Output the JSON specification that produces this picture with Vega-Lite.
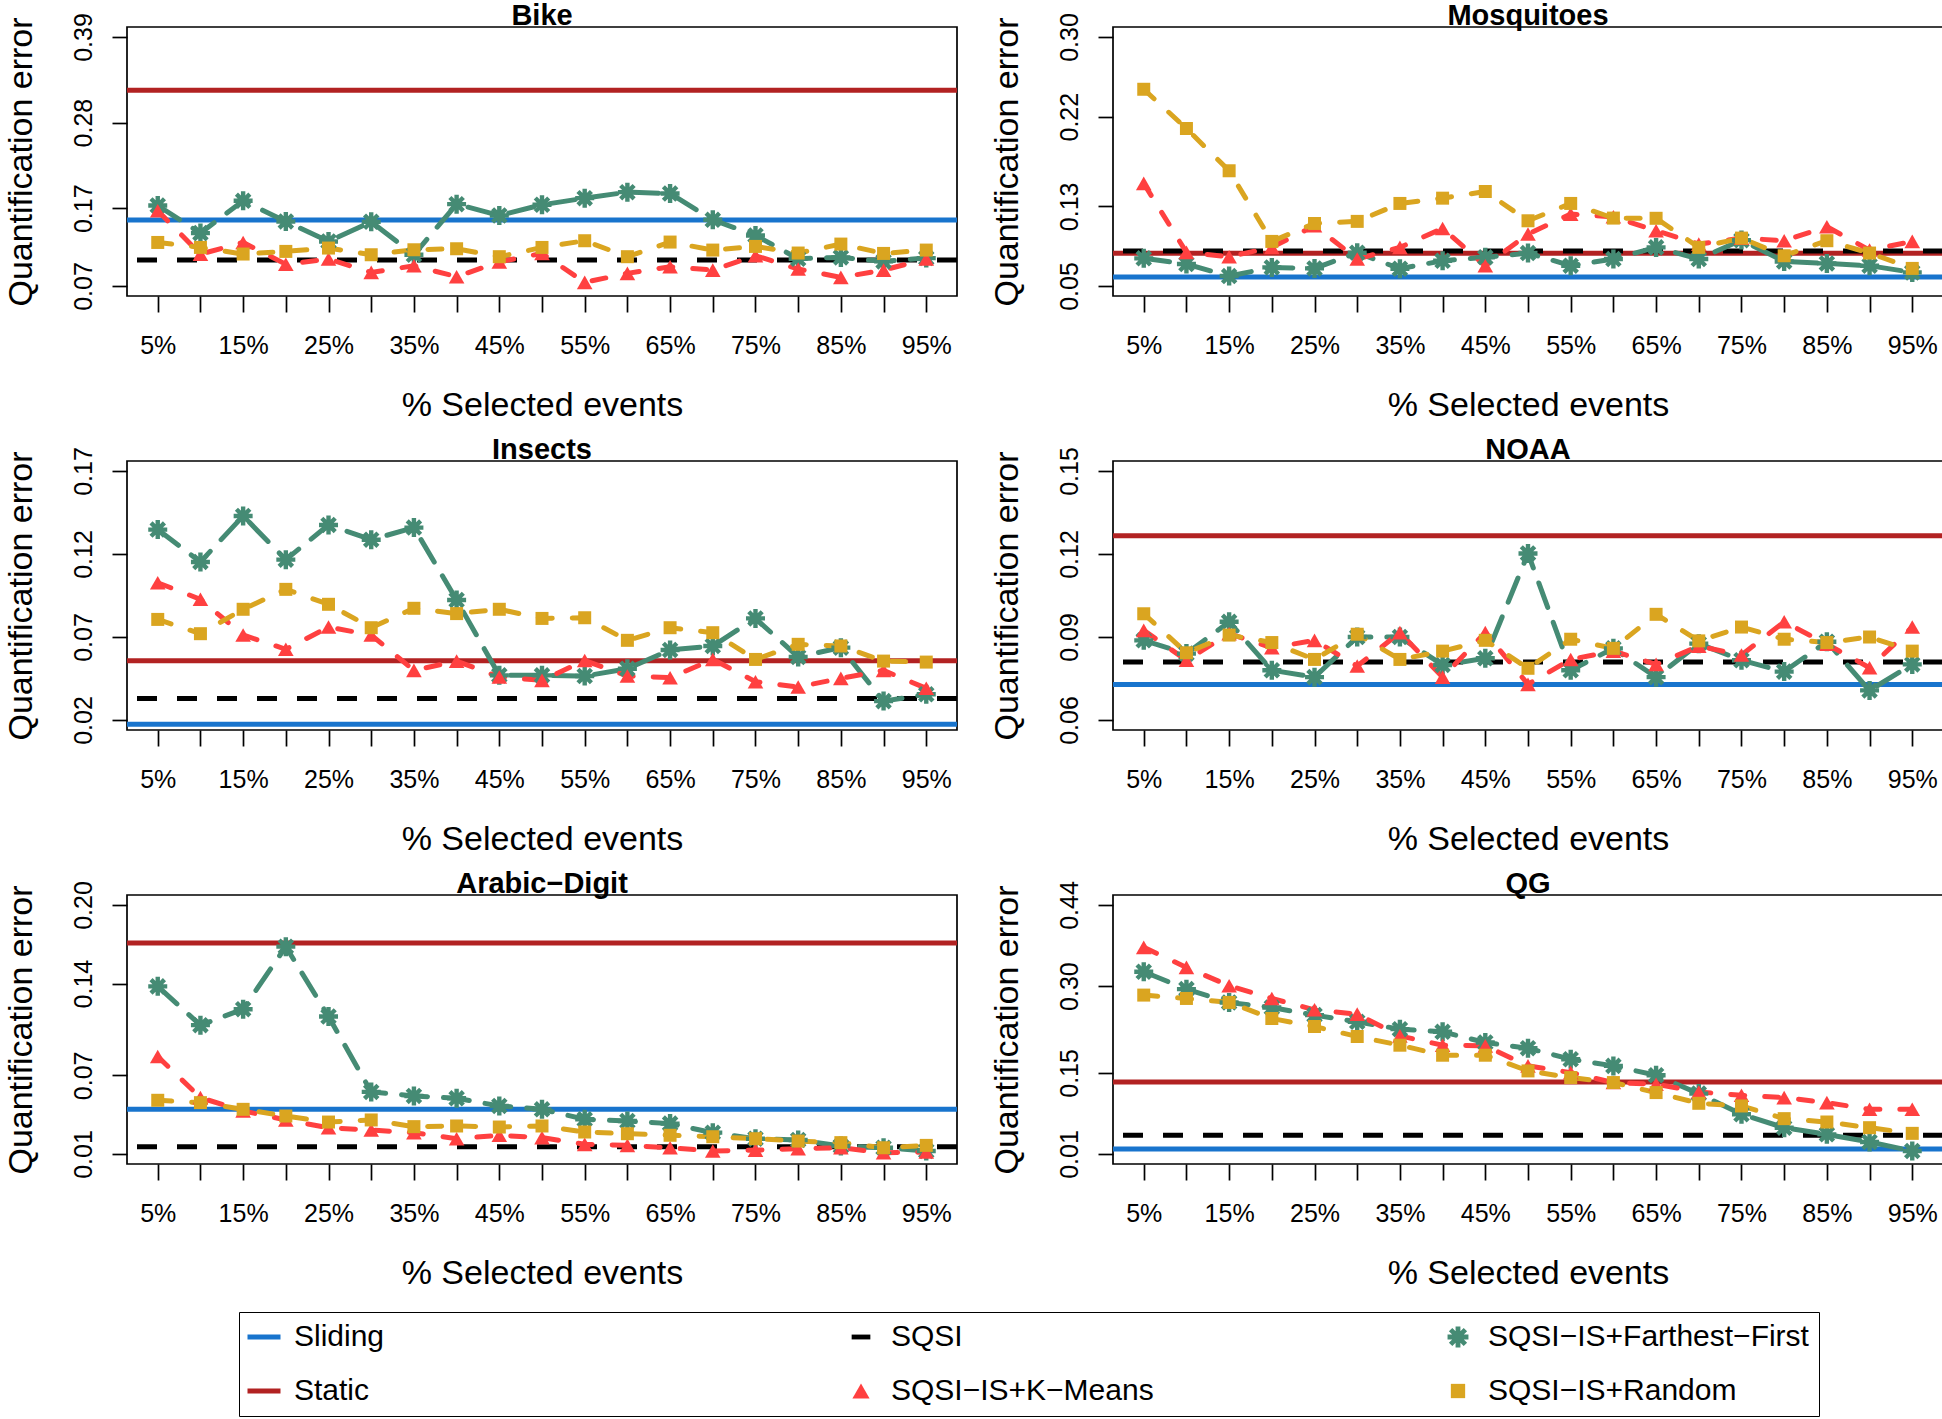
{
"$schema": "https://vega.github.io/schema/vega-lite/v6.json",
"background": "white",
"padding": {"left": 3, "top": 0, "right": 0, "bottom": 0},
"autosize": {"type": "pad"},
"datasets": {
"rows": [
{"ds":"Bike","m":"Static","v":0.3216},{"ds":"Bike","m":"Sliding","v":0.155},{"ds":"Bike","m":"SQSI","v":0.1034},
{"ds":"Mosquitoes","m":"Static","v":0.083},{"ds":"Mosquitoes","m":"Sliding","v":0.059},{"ds":"Mosquitoes","m":"SQSI","v":0.0852},
{"ds":"Insects","m":"Static","v":0.0557},{"ds":"Insects","m":"Sliding","v":0.0174},{"ds":"Insects","m":"SQSI","v":0.033},
{"ds":"NOAA","m":"Static","v":0.1266},{"ds":"NOAA","m":"Sliding","v":0.0728},{"ds":"NOAA","m":"SQSI","v":0.081},
{"ds":"Arabic−Digit","m":"Static","v":0.171},{"ds":"Arabic−Digit","m":"Sliding","v":0.0441},{"ds":"Arabic−Digit","m":"SQSI","v":0.0156},
{"ds":"QG","m":"Static","v":0.1345},{"ds":"QG","m":"Sliding","v":0.0187},{"ds":"QG","m":"SQSI","v":0.0423},
{"ds":"Bike","m":"SQSI−IS+Farthest−First","p":5,"v":0.1735},{"ds":"Bike","m":"SQSI−IS+Farthest−First","p":10,"v":0.138},{"ds":"Bike","m":"SQSI−IS+Farthest−First","p":15,"v":0.1795},{"ds":"Bike","m":"SQSI−IS+Farthest−First","p":20,"v":0.153},{"ds":"Bike","m":"SQSI−IS+Farthest−First","p":25,"v":0.1273},{"ds":"Bike","m":"SQSI−IS+Farthest−First","p":30,"v":0.1526},{"ds":"Bike","m":"SQSI−IS+Farthest−First","p":35,"v":0.1102},{"ds":"Bike","m":"SQSI−IS+Farthest−First","p":40,"v":0.1752},{"ds":"Bike","m":"SQSI−IS+Farthest−First","p":45,"v":0.1607},{"ds":"Bike","m":"SQSI−IS+Farthest−First","p":50,"v":0.1744},{"ds":"Bike","m":"SQSI−IS+Farthest−First","p":55,"v":0.1829},{"ds":"Bike","m":"SQSI−IS+Farthest−First","p":60,"v":0.1906},{"ds":"Bike","m":"SQSI−IS+Farthest−First","p":65,"v":0.1889},{"ds":"Bike","m":"SQSI−IS+Farthest−First","p":70,"v":0.1551},{"ds":"Bike","m":"SQSI−IS+Farthest−First","p":75,"v":0.135},{"ds":"Bike","m":"SQSI−IS+Farthest−First","p":80,"v":0.1051},{"ds":"Bike","m":"SQSI−IS+Farthest−First","p":85,"v":0.1068},{"ds":"Bike","m":"SQSI−IS+Farthest−First","p":90,"v":0.1017},{"ds":"Bike","m":"SQSI−IS+Farthest−First","p":95,"v":0.1059},
{"ds":"Bike","m":"SQSI−IS+K−Means","p":5,"v":0.1667},{"ds":"Bike","m":"SQSI−IS+K−Means","p":10,"v":0.111},{"ds":"Bike","m":"SQSI−IS+K−Means","p":15,"v":0.126},{"ds":"Bike","m":"SQSI−IS+K−Means","p":20,"v":0.098},{"ds":"Bike","m":"SQSI−IS+K−Means","p":25,"v":0.1047},{"ds":"Bike","m":"SQSI−IS+K−Means","p":30,"v":0.0875},{"ds":"Bike","m":"SQSI−IS+K−Means","p":35,"v":0.096},{"ds":"Bike","m":"SQSI−IS+K−Means","p":40,"v":0.082},{"ds":"Bike","m":"SQSI−IS+K−Means","p":45,"v":0.101},{"ds":"Bike","m":"SQSI−IS+K−Means","p":50,"v":0.112},{"ds":"Bike","m":"SQSI−IS+K−Means","p":55,"v":0.0747},{"ds":"Bike","m":"SQSI−IS+K−Means","p":60,"v":0.0863},{"ds":"Bike","m":"SQSI−IS+K−Means","p":65,"v":0.0948},{"ds":"Bike","m":"SQSI−IS+K−Means","p":70,"v":0.0905},{"ds":"Bike","m":"SQSI−IS+K−Means","p":75,"v":0.109},{"ds":"Bike","m":"SQSI−IS+K−Means","p":80,"v":0.0918},{"ds":"Bike","m":"SQSI−IS+K−Means","p":85,"v":0.0811},{"ds":"Bike","m":"SQSI−IS+K−Means","p":90,"v":0.0905},{"ds":"Bike","m":"SQSI−IS+K−Means","p":95,"v":0.1047},
{"ds":"Bike","m":"SQSI−IS+Random","p":5,"v":0.126},{"ds":"Bike","m":"SQSI−IS+Random","p":10,"v":0.1196},{"ds":"Bike","m":"SQSI−IS+Random","p":15,"v":0.1111},{"ds":"Bike","m":"SQSI−IS+Random","p":20,"v":0.1145},{"ds":"Bike","m":"SQSI−IS+Random","p":25,"v":0.1188},{"ds":"Bike","m":"SQSI−IS+Random","p":30,"v":0.1102},{"ds":"Bike","m":"SQSI−IS+Random","p":35,"v":0.1166},{"ds":"Bike","m":"SQSI−IS+Random","p":40,"v":0.1179},{"ds":"Bike","m":"SQSI−IS+Random","p":45,"v":0.1077},{"ds":"Bike","m":"SQSI−IS+Random","p":50,"v":0.1196},{"ds":"Bike","m":"SQSI−IS+Random","p":55,"v":0.1282},{"ds":"Bike","m":"SQSI−IS+Random","p":60,"v":0.1077},{"ds":"Bike","m":"SQSI−IS+Random","p":65,"v":0.1265},{"ds":"Bike","m":"SQSI−IS+Random","p":70,"v":0.1162},{"ds":"Bike","m":"SQSI−IS+Random","p":75,"v":0.1209},{"ds":"Bike","m":"SQSI−IS+Random","p":80,"v":0.1124},{"ds":"Bike","m":"SQSI−IS+Random","p":85,"v":0.1239},{"ds":"Bike","m":"SQSI−IS+Random","p":90,"v":0.1119},{"ds":"Bike","m":"SQSI−IS+Random","p":95,"v":0.1162},
{"ds":"Mosquitoes","m":"SQSI−IS+Farthest−First","p":5,"v":0.0778},{"ds":"Mosquitoes","m":"SQSI−IS+Farthest−First","p":10,"v":0.0721},{"ds":"Mosquitoes","m":"SQSI−IS+Farthest−First","p":15,"v":0.060},{"ds":"Mosquitoes","m":"SQSI−IS+Farthest−First","p":20,"v":0.0687},{"ds":"Mosquitoes","m":"SQSI−IS+Farthest−First","p":25,"v":0.0677},{"ds":"Mosquitoes","m":"SQSI−IS+Farthest−First","p":30,"v":0.0834},{"ds":"Mosquitoes","m":"SQSI−IS+Farthest−First","p":35,"v":0.0674},{"ds":"Mosquitoes","m":"SQSI−IS+Farthest−First","p":40,"v":0.0754},{"ds":"Mosquitoes","m":"SQSI−IS+Farthest−First","p":45,"v":0.0788},{"ds":"Mosquitoes","m":"SQSI−IS+Farthest−First","p":50,"v":0.0831},{"ds":"Mosquitoes","m":"SQSI−IS+Farthest−First","p":55,"v":0.0704},{"ds":"Mosquitoes","m":"SQSI−IS+Farthest−First","p":60,"v":0.0771},{"ds":"Mosquitoes","m":"SQSI−IS+Farthest−First","p":65,"v":0.0888},{"ds":"Mosquitoes","m":"SQSI−IS+Farthest−First","p":70,"v":0.0771},{"ds":"Mosquitoes","m":"SQSI−IS+Farthest−First","p":75,"v":0.0961},{"ds":"Mosquitoes","m":"SQSI−IS+Farthest−First","p":80,"v":0.0747},{"ds":"Mosquitoes","m":"SQSI−IS+Farthest−First","p":85,"v":0.0727},{"ds":"Mosquitoes","m":"SQSI−IS+Farthest−First","p":90,"v":0.0704},{"ds":"Mosquitoes","m":"SQSI−IS+Farthest−First","p":95,"v":0.0637},
{"ds":"Mosquitoes","m":"SQSI−IS+K−Means","p":5,"v":0.153},{"ds":"Mosquitoes","m":"SQSI−IS+K−Means","p":10,"v":0.0838},{"ds":"Mosquitoes","m":"SQSI−IS+K−Means","p":15,"v":0.0794},{"ds":"Mosquitoes","m":"SQSI−IS+K−Means","p":20,"v":0.0888},{"ds":"Mosquitoes","m":"SQSI−IS+K−Means","p":25,"v":0.1105},{"ds":"Mosquitoes","m":"SQSI−IS+K−Means","p":30,"v":0.0771},{"ds":"Mosquitoes","m":"SQSI−IS+K−Means","p":35,"v":0.0888},{"ds":"Mosquitoes","m":"SQSI−IS+K−Means","p":40,"v":0.1078},{"ds":"Mosquitoes","m":"SQSI−IS+K−Means","p":45,"v":0.0704},{"ds":"Mosquitoes","m":"SQSI−IS+K−Means","p":50,"v":0.1022},{"ds":"Mosquitoes","m":"SQSI−IS+K−Means","p":55,"v":0.1222},{"ds":"Mosquitoes","m":"SQSI−IS+K−Means","p":60,"v":0.1195},{"ds":"Mosquitoes","m":"SQSI−IS+K−Means","p":65,"v":0.1055},{"ds":"Mosquitoes","m":"SQSI−IS+K−Means","p":70,"v":0.0921},{"ds":"Mosquitoes","m":"SQSI−IS+K−Means","p":75,"v":0.0981},{"ds":"Mosquitoes","m":"SQSI−IS+K−Means","p":80,"v":0.0955},{"ds":"Mosquitoes","m":"SQSI−IS+K−Means","p":85,"v":0.1095},{"ds":"Mosquitoes","m":"SQSI−IS+K−Means","p":90,"v":0.0861},{"ds":"Mosquitoes","m":"SQSI−IS+K−Means","p":95,"v":0.0948},
{"ds":"Mosquitoes","m":"SQSI−IS+Random","p":5,"v":0.2475},{"ds":"Mosquitoes","m":"SQSI−IS+Random","p":10,"v":0.2081},{"ds":"Mosquitoes","m":"SQSI−IS+Random","p":15,"v":0.1657},{"ds":"Mosquitoes","m":"SQSI−IS+Random","p":20,"v":0.0948},{"ds":"Mosquitoes","m":"SQSI−IS+Random","p":25,"v":0.1128},{"ds":"Mosquitoes","m":"SQSI−IS+Random","p":30,"v":0.1149},{"ds":"Mosquitoes","m":"SQSI−IS+Random","p":35,"v":0.1329},{"ds":"Mosquitoes","m":"SQSI−IS+Random","p":40,"v":0.1382},{"ds":"Mosquitoes","m":"SQSI−IS+Random","p":45,"v":0.1449},{"ds":"Mosquitoes","m":"SQSI−IS+Random","p":50,"v":0.1155},{"ds":"Mosquitoes","m":"SQSI−IS+Random","p":55,"v":0.1329},{"ds":"Mosquitoes","m":"SQSI−IS+Random","p":60,"v":0.1182},{"ds":"Mosquitoes","m":"SQSI−IS+Random","p":65,"v":0.118},{"ds":"Mosquitoes","m":"SQSI−IS+Random","p":70,"v":0.0888},{"ds":"Mosquitoes","m":"SQSI−IS+Random","p":75,"v":0.0981},{"ds":"Mosquitoes","m":"SQSI−IS+Random","p":80,"v":0.0804},{"ds":"Mosquitoes","m":"SQSI−IS+Random","p":85,"v":0.0955},{"ds":"Mosquitoes","m":"SQSI−IS+Random","p":90,"v":0.0831},{"ds":"Mosquitoes","m":"SQSI−IS+Random","p":95,"v":0.0677},
{"ds":"Insects","m":"SQSI−IS+Farthest−First","p":5,"v":0.1347},{"ds":"Insects","m":"SQSI−IS+Farthest−First","p":10,"v":0.1152},{"ds":"Insects","m":"SQSI−IS+Farthest−First","p":15,"v":0.1429},{"ds":"Insects","m":"SQSI−IS+Farthest−First","p":20,"v":0.1166},{"ds":"Insects","m":"SQSI−IS+Farthest−First","p":25,"v":0.1375},{"ds":"Insects","m":"SQSI−IS+Farthest−First","p":30,"v":0.1286},{"ds":"Insects","m":"SQSI−IS+Farthest−First","p":35,"v":0.1359},{"ds":"Insects","m":"SQSI−IS+Farthest−First","p":40,"v":0.0923},{"ds":"Insects","m":"SQSI−IS+Farthest−First","p":45,"v":0.0469},{"ds":"Insects","m":"SQSI−IS+Farthest−First","p":50,"v":0.0469},{"ds":"Insects","m":"SQSI−IS+Farthest−First","p":55,"v":0.0465},{"ds":"Insects","m":"SQSI−IS+Farthest−First","p":60,"v":0.0509},{"ds":"Insects","m":"SQSI−IS+Farthest−First","p":65,"v":0.0622},{"ds":"Insects","m":"SQSI−IS+Farthest−First","p":70,"v":0.0646},{"ds":"Insects","m":"SQSI−IS+Farthest−First","p":75,"v":0.0812},{"ds":"Insects","m":"SQSI−IS+Farthest−First","p":80,"v":0.058},{"ds":"Insects","m":"SQSI−IS+Farthest−First","p":85,"v":0.0636},{"ds":"Insects","m":"SQSI−IS+Farthest−First","p":90,"v":0.0314},{"ds":"Insects","m":"SQSI−IS+Farthest−First","p":95,"v":0.0355},
{"ds":"Insects","m":"SQSI−IS+K−Means","p":5,"v":0.1027},{"ds":"Insects","m":"SQSI−IS+K−Means","p":10,"v":0.0927},{"ds":"Insects","m":"SQSI−IS+K−Means","p":15,"v":0.0712},{"ds":"Insects","m":"SQSI−IS+K−Means","p":20,"v":0.0626},{"ds":"Insects","m":"SQSI−IS+K−Means","p":25,"v":0.076},{"ds":"Insects","m":"SQSI−IS+K−Means","p":30,"v":0.0712},{"ds":"Insects","m":"SQSI−IS+K−Means","p":35,"v":0.0499},{"ds":"Insects","m":"SQSI−IS+K−Means","p":40,"v":0.0555},{"ds":"Insects","m":"SQSI−IS+K−Means","p":45,"v":0.0459},{"ds":"Insects","m":"SQSI−IS+K−Means","p":50,"v":0.0439},{"ds":"Insects","m":"SQSI−IS+K−Means","p":55,"v":0.0559},{"ds":"Insects","m":"SQSI−IS+K−Means","p":60,"v":0.0465},{"ds":"Insects","m":"SQSI−IS+K−Means","p":65,"v":0.0455},{"ds":"Insects","m":"SQSI−IS+K−Means","p":70,"v":0.0565},{"ds":"Insects","m":"SQSI−IS+K−Means","p":75,"v":0.0431},{"ds":"Insects","m":"SQSI−IS+K−Means","p":80,"v":0.0399},{"ds":"Insects","m":"SQSI−IS+K−Means","p":85,"v":0.0451},{"ds":"Insects","m":"SQSI−IS+K−Means","p":90,"v":0.0499},{"ds":"Insects","m":"SQSI−IS+K−Means","p":95,"v":0.0391},
{"ds":"Insects","m":"SQSI−IS+Random","p":5,"v":0.0806},{"ds":"Insects","m":"SQSI−IS+Random","p":10,"v":0.072},{"ds":"Insects","m":"SQSI−IS+Random","p":15,"v":0.0867},{"ds":"Insects","m":"SQSI−IS+Random","p":20,"v":0.0987},{"ds":"Insects","m":"SQSI−IS+Random","p":25,"v":0.0897},{"ds":"Insects","m":"SQSI−IS+Random","p":30,"v":0.0756},{"ds":"Insects","m":"SQSI−IS+Random","p":35,"v":0.0873},{"ds":"Insects","m":"SQSI−IS+Random","p":40,"v":0.0841},{"ds":"Insects","m":"SQSI−IS+Random","p":45,"v":0.0867},{"ds":"Insects","m":"SQSI−IS+Random","p":50,"v":0.0812},{"ds":"Insects","m":"SQSI−IS+Random","p":55,"v":0.0816},{"ds":"Insects","m":"SQSI−IS+Random","p":60,"v":0.068},{"ds":"Insects","m":"SQSI−IS+Random","p":65,"v":0.0756},{"ds":"Insects","m":"SQSI−IS+Random","p":70,"v":0.0726},{"ds":"Insects","m":"SQSI−IS+Random","p":75,"v":0.0565},{"ds":"Insects","m":"SQSI−IS+Random","p":80,"v":0.0656},{"ds":"Insects","m":"SQSI−IS+Random","p":85,"v":0.0646},{"ds":"Insects","m":"SQSI−IS+Random","p":90,"v":0.0555},{"ds":"Insects","m":"SQSI−IS+Random","p":95,"v":0.0549},
{"ds":"NOAA","m":"SQSI−IS+Farthest−First","p":5,"v":0.0888},{"ds":"NOAA","m":"SQSI−IS+Farthest−First","p":10,"v":0.084},{"ds":"NOAA","m":"SQSI−IS+Farthest−First","p":15,"v":0.0955},{"ds":"NOAA","m":"SQSI−IS+Farthest−First","p":20,"v":0.078},{"ds":"NOAA","m":"SQSI−IS+Farthest−First","p":25,"v":0.0755},{"ds":"NOAA","m":"SQSI−IS+Farthest−First","p":30,"v":0.090},{"ds":"NOAA","m":"SQSI−IS+Farthest−First","p":35,"v":0.090},{"ds":"NOAA","m":"SQSI−IS+Farthest−First","p":40,"v":0.0799},{"ds":"NOAA","m":"SQSI−IS+Farthest−First","p":45,"v":0.0823},{"ds":"NOAA","m":"SQSI−IS+Farthest−First","p":50,"v":0.1202},{"ds":"NOAA","m":"SQSI−IS+Farthest−First","p":55,"v":0.078},{"ds":"NOAA","m":"SQSI−IS+Farthest−First","p":60,"v":0.0859},{"ds":"NOAA","m":"SQSI−IS+Farthest−First","p":65,"v":0.0755},{"ds":"NOAA","m":"SQSI−IS+Farthest−First","p":70,"v":0.0876},{"ds":"NOAA","m":"SQSI−IS+Farthest−First","p":75,"v":0.0816},{"ds":"NOAA","m":"SQSI−IS+Farthest−First","p":80,"v":0.0775},{"ds":"NOAA","m":"SQSI−IS+Farthest−First","p":85,"v":0.0883},{"ds":"NOAA","m":"SQSI−IS+Farthest−First","p":90,"v":0.0707},{"ds":"NOAA","m":"SQSI−IS+Farthest−First","p":95,"v":0.0801},
{"ds":"NOAA","m":"SQSI−IS+K−Means","p":5,"v":0.0924},{"ds":"NOAA","m":"SQSI−IS+K−Means","p":10,"v":0.0816},{"ds":"NOAA","m":"SQSI−IS+K−Means","p":15,"v":0.0912},{"ds":"NOAA","m":"SQSI−IS+K−Means","p":20,"v":0.0861},{"ds":"NOAA","m":"SQSI−IS+K−Means","p":25,"v":0.0888},{"ds":"NOAA","m":"SQSI−IS+K−Means","p":30,"v":0.0795},{"ds":"NOAA","m":"SQSI−IS+K−Means","p":35,"v":0.0916},{"ds":"NOAA","m":"SQSI−IS+K−Means","p":40,"v":0.0755},{"ds":"NOAA","m":"SQSI−IS+K−Means","p":45,"v":0.0916},{"ds":"NOAA","m":"SQSI−IS+K−Means","p":50,"v":0.0729},{"ds":"NOAA","m":"SQSI−IS+K−Means","p":55,"v":0.0819},{"ds":"NOAA","m":"SQSI−IS+K−Means","p":60,"v":0.0849},{"ds":"NOAA","m":"SQSI−IS+K−Means","p":65,"v":0.0801},{"ds":"NOAA","m":"SQSI−IS+K−Means","p":70,"v":0.0867},{"ds":"NOAA","m":"SQSI−IS+K−Means","p":75,"v":0.0835},{"ds":"NOAA","m":"SQSI−IS+K−Means","p":80,"v":0.0955},{"ds":"NOAA","m":"SQSI−IS+K−Means","p":85,"v":0.0874},{"ds":"NOAA","m":"SQSI−IS+K−Means","p":90,"v":0.0789},{"ds":"NOAA","m":"SQSI−IS+K−Means","p":95,"v":0.0936},
{"ds":"NOAA","m":"SQSI−IS+Random","p":5,"v":0.0984},{"ds":"NOAA","m":"SQSI−IS+Random","p":10,"v":0.0843},{"ds":"NOAA","m":"SQSI−IS+Random","p":15,"v":0.0907},{"ds":"NOAA","m":"SQSI−IS+Random","p":20,"v":0.088},{"ds":"NOAA","m":"SQSI−IS+Random","p":25,"v":0.0819},{"ds":"NOAA","m":"SQSI−IS+Random","p":30,"v":0.091},{"ds":"NOAA","m":"SQSI−IS+Random","p":35,"v":0.0819},{"ds":"NOAA","m":"SQSI−IS+Random","p":40,"v":0.0849},{"ds":"NOAA","m":"SQSI−IS+Random","p":45,"v":0.0888},{"ds":"NOAA","m":"SQSI−IS+Random","p":50,"v":0.0787},{"ds":"NOAA","m":"SQSI−IS+Random","p":55,"v":0.0892},{"ds":"NOAA","m":"SQSI−IS+Random","p":60,"v":0.0859},{"ds":"NOAA","m":"SQSI−IS+Random","p":65,"v":0.0982},{"ds":"NOAA","m":"SQSI−IS+Random","p":70,"v":0.0886},{"ds":"NOAA","m":"SQSI−IS+Random","p":75,"v":0.0936},{"ds":"NOAA","m":"SQSI−IS+Random","p":80,"v":0.0892},{"ds":"NOAA","m":"SQSI−IS+Random","p":85,"v":0.088},{"ds":"NOAA","m":"SQSI−IS+Random","p":90,"v":0.090},{"ds":"NOAA","m":"SQSI−IS+Random","p":95,"v":0.0849},
{"ds":"Arabic−Digit","m":"SQSI−IS+Farthest−First","p":5,"v":0.1379},{"ds":"Arabic−Digit","m":"SQSI−IS+Farthest−First","p":10,"v":0.1083},{"ds":"Arabic−Digit","m":"SQSI−IS+Farthest−First","p":15,"v":0.1205},{"ds":"Arabic−Digit","m":"SQSI−IS+Farthest−First","p":20,"v":0.1682},{"ds":"Arabic−Digit","m":"SQSI−IS+Farthest−First","p":25,"v":0.1149},{"ds":"Arabic−Digit","m":"SQSI−IS+Farthest−First","p":30,"v":0.0574},{"ds":"Arabic−Digit","m":"SQSI−IS+Farthest−First","p":35,"v":0.0543},{"ds":"Arabic−Digit","m":"SQSI−IS+Farthest−First","p":40,"v":0.0525},{"ds":"Arabic−Digit","m":"SQSI−IS+Farthest−First","p":45,"v":0.0467},{"ds":"Arabic−Digit","m":"SQSI−IS+Farthest−First","p":50,"v":0.0441},{"ds":"Arabic−Digit","m":"SQSI−IS+Farthest−First","p":55,"v":0.0365},{"ds":"Arabic−Digit","m":"SQSI−IS+Farthest−First","p":60,"v":0.0352},{"ds":"Arabic−Digit","m":"SQSI−IS+Farthest−First","p":65,"v":0.0332},{"ds":"Arabic−Digit","m":"SQSI−IS+Farthest−First","p":70,"v":0.0263},{"ds":"Arabic−Digit","m":"SQSI−IS+Farthest−First","p":75,"v":0.0217},{"ds":"Arabic−Digit","m":"SQSI−IS+Farthest−First","p":80,"v":0.0207},{"ds":"Arabic−Digit","m":"SQSI−IS+Farthest−First","p":85,"v":0.0161},{"ds":"Arabic−Digit","m":"SQSI−IS+Farthest−First","p":90,"v":0.0148},{"ds":"Arabic−Digit","m":"SQSI−IS+Farthest−First","p":95,"v":0.0123},
{"ds":"Arabic−Digit","m":"SQSI−IS+K−Means","p":5,"v":0.0844},{"ds":"Arabic−Digit","m":"SQSI−IS+K−Means","p":10,"v":0.053},{"ds":"Arabic−Digit","m":"SQSI−IS+K−Means","p":15,"v":0.0429},{"ds":"Arabic−Digit","m":"SQSI−IS+K−Means","p":20,"v":0.036},{"ds":"Arabic−Digit","m":"SQSI−IS+K−Means","p":25,"v":0.0301},{"ds":"Arabic−Digit","m":"SQSI−IS+K−Means","p":30,"v":0.0283},{"ds":"Arabic−Digit","m":"SQSI−IS+K−Means","p":35,"v":0.0263},{"ds":"Arabic−Digit","m":"SQSI−IS+K−Means","p":40,"v":0.0217},{"ds":"Arabic−Digit","m":"SQSI−IS+K−Means","p":45,"v":0.0243},{"ds":"Arabic−Digit","m":"SQSI−IS+K−Means","p":50,"v":0.0225},{"ds":"Arabic−Digit","m":"SQSI−IS+K−Means","p":55,"v":0.0174},{"ds":"Arabic−Digit","m":"SQSI−IS+K−Means","p":60,"v":0.0166},{"ds":"Arabic−Digit","m":"SQSI−IS+K−Means","p":65,"v":0.0148},{"ds":"Arabic−Digit","m":"SQSI−IS+K−Means","p":70,"v":0.0123},{"ds":"Arabic−Digit","m":"SQSI−IS+K−Means","p":75,"v":0.013},{"ds":"Arabic−Digit","m":"SQSI−IS+K−Means","p":80,"v":0.0141},{"ds":"Arabic−Digit","m":"SQSI−IS+K−Means","p":85,"v":0.0148},{"ds":"Arabic−Digit","m":"SQSI−IS+K−Means","p":90,"v":0.011},{"ds":"Arabic−Digit","m":"SQSI−IS+K−Means","p":95,"v":0.0115},
{"ds":"Arabic−Digit","m":"SQSI−IS+Random","p":5,"v":0.051},{"ds":"Arabic−Digit","m":"SQSI−IS+Random","p":10,"v":0.0492},{"ds":"Arabic−Digit","m":"SQSI−IS+Random","p":15,"v":0.0441},{"ds":"Arabic−Digit","m":"SQSI−IS+Random","p":20,"v":0.039},{"ds":"Arabic−Digit","m":"SQSI−IS+Random","p":25,"v":0.0344},{"ds":"Arabic−Digit","m":"SQSI−IS+Random","p":30,"v":0.036},{"ds":"Arabic−Digit","m":"SQSI−IS+Random","p":35,"v":0.0309},{"ds":"Arabic−Digit","m":"SQSI−IS+Random","p":40,"v":0.0314},{"ds":"Arabic−Digit","m":"SQSI−IS+Random","p":45,"v":0.0306},{"ds":"Arabic−Digit","m":"SQSI−IS+Random","p":50,"v":0.0314},{"ds":"Arabic−Digit","m":"SQSI−IS+Random","p":55,"v":0.0268},{"ds":"Arabic−Digit","m":"SQSI−IS+Random","p":60,"v":0.0255},{"ds":"Arabic−Digit","m":"SQSI−IS+Random","p":65,"v":0.0243},{"ds":"Arabic−Digit","m":"SQSI−IS+Random","p":70,"v":0.0232},{"ds":"Arabic−Digit","m":"SQSI−IS+Random","p":75,"v":0.0217},{"ds":"Arabic−Digit","m":"SQSI−IS+Random","p":80,"v":0.0199},{"ds":"Arabic−Digit","m":"SQSI−IS+Random","p":85,"v":0.0187},{"ds":"Arabic−Digit","m":"SQSI−IS+Random","p":90,"v":0.0148},{"ds":"Arabic−Digit","m":"SQSI−IS+Random","p":95,"v":0.0166},
{"ds":"QG","m":"SQSI−IS+Farthest−First","p":5,"v":0.3247},{"ds":"QG","m":"SQSI−IS+Farthest−First","p":10,"v":0.2947},{"ds":"QG","m":"SQSI−IS+Farthest−First","p":15,"v":0.2717},{"ds":"QG","m":"SQSI−IS+Farthest−First","p":20,"v":0.263},{"ds":"QG","m":"SQSI−IS+Farthest−First","p":25,"v":0.2498},{"ds":"QG","m":"SQSI−IS+Farthest−First","p":30,"v":0.2383},{"ds":"QG","m":"SQSI−IS+Farthest−First","p":35,"v":0.2256},{"ds":"QG","m":"SQSI−IS+Farthest−First","p":40,"v":0.221},{"ds":"QG","m":"SQSI−IS+Farthest−First","p":45,"v":0.2025},{"ds":"QG","m":"SQSI−IS+Farthest−First","p":50,"v":0.1927},{"ds":"QG","m":"SQSI−IS+Farthest−First","p":55,"v":0.1737},{"ds":"QG","m":"SQSI−IS+Farthest−First","p":60,"v":0.1622},{"ds":"QG","m":"SQSI−IS+Farthest−First","p":65,"v":0.146},{"ds":"QG","m":"SQSI−IS+Farthest−First","p":70,"v":0.1143},{"ds":"QG","m":"SQSI−IS+Farthest−First","p":75,"v":0.0786},{"ds":"QG","m":"SQSI−IS+Farthest−First","p":80,"v":0.0555},{"ds":"QG","m":"SQSI−IS+Farthest−First","p":85,"v":0.044},{"ds":"QG","m":"SQSI−IS+Farthest−First","p":90,"v":0.0308},{"ds":"QG","m":"SQSI−IS+Farthest−First","p":95,"v":0.0152},
{"ds":"QG","m":"SQSI−IS+K−Means","p":5,"v":0.3668},{"ds":"QG","m":"SQSI−IS+K−Means","p":10,"v":0.3322},{"ds":"QG","m":"SQSI−IS+K−Means","p":15,"v":0.3005},{"ds":"QG","m":"SQSI−IS+K−Means","p":20,"v":0.2786},{"ds":"QG","m":"SQSI−IS+K−Means","p":25,"v":0.259},{"ds":"QG","m":"SQSI−IS+K−Means","p":30,"v":0.2515},{"ds":"QG","m":"SQSI−IS+K−Means","p":35,"v":0.214},{"ds":"QG","m":"SQSI−IS+K−Means","p":40,"v":0.1979},{"ds":"QG","m":"SQSI−IS+K−Means","p":45,"v":0.1968},{"ds":"QG","m":"SQSI−IS+K−Means","p":50,"v":0.1622},{"ds":"QG","m":"SQSI−IS+K−Means","p":55,"v":0.1506},{"ds":"QG","m":"SQSI−IS+K−Means","p":60,"v":0.1334},{"ds":"QG","m":"SQSI−IS+K−Means","p":65,"v":0.1305},{"ds":"QG","m":"SQSI−IS+K−Means","p":70,"v":0.1172},{"ds":"QG","m":"SQSI−IS+K−Means","p":75,"v":0.1115},{"ds":"QG","m":"SQSI−IS+K−Means","p":80,"v":0.1074},{"ds":"QG","m":"SQSI−IS+K−Means","p":85,"v":0.0988},{"ds":"QG","m":"SQSI−IS+K−Means","p":90,"v":0.0872},{"ds":"QG","m":"SQSI−IS+K−Means","p":95,"v":0.0872},
{"ds":"QG","m":"SQSI−IS+Random","p":5,"v":0.2844},{"ds":"QG","m":"SQSI−IS+Random","p":10,"v":0.2786},{"ds":"QG","m":"SQSI−IS+Random","p":15,"v":0.2717},{"ds":"QG","m":"SQSI−IS+Random","p":20,"v":0.244},{"ds":"QG","m":"SQSI−IS+Random","p":25,"v":0.2302},{"ds":"QG","m":"SQSI−IS+Random","p":30,"v":0.2129},{"ds":"QG","m":"SQSI−IS+Random","p":35,"v":0.1979},{"ds":"QG","m":"SQSI−IS+Random","p":40,"v":0.1806},{"ds":"QG","m":"SQSI−IS+Random","p":45,"v":0.1806},{"ds":"QG","m":"SQSI−IS+Random","p":50,"v":0.1535},{"ds":"QG","m":"SQSI−IS+Random","p":55,"v":0.142},{"ds":"QG","m":"SQSI−IS+Random","p":60,"v":0.1334},{"ds":"QG","m":"SQSI−IS+Random","p":65,"v":0.1161},{"ds":"QG","m":"SQSI−IS+Random","p":70,"v":0.0976},{"ds":"QG","m":"SQSI−IS+Random","p":75,"v":0.093},{"ds":"QG","m":"SQSI−IS+Random","p":80,"v":0.0711},{"ds":"QG","m":"SQSI−IS+Random","p":85,"v":0.0653},{"ds":"QG","m":"SQSI−IS+Random","p":90,"v":0.0555},{"ds":"QG","m":"SQSI−IS+Random","p":95,"v":0.0457}
]
},
"columns": 2,
"spacing": {"row": 165, "column": 156},
"bounds": "flush",
"concat": [
{"title": "Bike", "width": 830, "height": 269, "data": {"name": "rows"}, "transform": [{"filter": "datum.ds === 'Bike'"}],
 "encoding": {"y": {"field": "v", "type": "quantitative", "scale": {"domain": [0.0572, 0.4028], "nice": false, "zero": false}, "axis": {"values": [0.07, 0.17, 0.28, 0.39], "format": ".2f", "title": "Quantification error"}}},
 "layer": [
  {"transform": [{"filter": "datum.m === 'Static'"}], "mark": {"type": "rule", "color": "#B22222", "strokeWidth": 5}, "encoding": {}},
  {"transform": [{"filter": "datum.m === 'Sliding'"}], "mark": {"type": "rule", "color": "#1874CD", "strokeWidth": 5}, "encoding": {}},
  {"transform": [{"filter": "datum.m === 'SQSI'"}], "mark": {"type": "rule", "color": "#000000", "strokeWidth": 5, "strokeDash": [20, 20]}, "encoding": {}},
  {"transform": [{"filter": "datum.m === 'SQSI−IS+Farthest−First'"}], "mark": {"type": "line", "color": "#458B74", "strokeWidth": 5, "strokeCap": "round", "strokeDash": [26, 16]}, "encoding": {"x": {"field": "p", "type": "quantitative", "scale": {"domain": [1.4, 98.6], "nice": false, "zero": false}, "axis": {"values": [5,10,15,20,25,30,35,40,45,50,55,60,65,70,75,80,85,90,95], "labelExpr": "datum.value % 10 === 5 ? datum.value + '%' : ''", "title": "% Selected events"}}}},
  {"transform": [{"filter": "datum.m === 'SQSI−IS+K−Means'"}], "mark": {"type": "line", "color": "#FF4040", "strokeWidth": 5, "strokeCap": "round", "strokeDash": [14, 20]}, "encoding": {"x": {"field": "p", "type": "quantitative", "scale": {"domain": [1.4, 98.6], "nice": false, "zero": false}}}},
  {"transform": [{"filter": "datum.m === 'SQSI−IS+Random'"}], "mark": {"type": "line", "color": "#DAA520", "strokeWidth": 5, "strokeCap": "round", "strokeDash": [14, 20]}, "encoding": {"x": {"field": "p", "type": "quantitative", "scale": {"domain": [1.4, 98.6], "nice": false, "zero": false}}}},
  {"transform": [{"filter": "isValid(datum.p)"}], "mark": {"type": "point", "filled": true, "opacity": 1, "size": 400, "strokeWidth": 0},
   "encoding": {"x": {"field": "p", "type": "quantitative", "scale": {"domain": [1.4, 98.6], "nice": false, "zero": false}},
    "color": {"field": "m", "type": "nominal", "scale": {"domain": ["Sliding", "SQSI", "SQSI−IS+Farthest−First", "Static", "SQSI−IS+K−Means", "SQSI−IS+Random"], "range": ["#1874CD", "#000000", "#458B74", "#B22222", "#FF4040", "#DAA520"]}, "legend": {"title": null, "orient": "none", "legendX": 112, "legendY": 1285, "columns": 3, "direction": "horizontal", "gridAlign": "all", "columnPadding": 231, "rowPadding": 24, "padding": 10, "labelFont": "Liberation Sans", "labelFontSize": 30, "labelColor": "black", "labelLimit": 600, "labelOffset": 15, "symbolSize": 484, "symbolStrokeWidth": 0, "symbolOpacity": 1, "strokeColor": "black", "fillColor": "white"}},
    "shape": {"field": "m", "type": "nominal", "scale": {"domain": ["Sliding", "SQSI", "SQSI−IS+Farthest−First", "Static", "SQSI−IS+K−Means", "SQSI−IS+Random"], "range": ["M-1.5,-0.22L1.5,-0.22L1.5,0.22L-1.5,0.22Z", "M-0.85,-0.22L0.85,-0.22L0.85,0.22L-0.85,0.22Z", "M-0.22,-0.95L0.22,-0.95L0.22,0.95L-0.22,0.95ZM-0.95,-0.22L0.95,-0.22L0.95,0.22L-0.95,0.22ZM0.516,-0.827L0.827,-0.516L-0.516,0.827L-0.827,0.516ZM-0.827,-0.516L-0.516,-0.827L0.827,0.516L0.516,0.827Z", "M-1.5,-0.22L1.5,-0.22L1.5,0.22L-1.5,0.22Z", "M0,-0.68L0.78,0.68L-0.78,0.68Z", "M-0.65,-0.65L0.65,-0.65L0.65,0.65L-0.65,0.65Z"]}, "legend": {"title": null, "orient": "none", "legendX": 112, "legendY": 1285, "columns": 3, "direction": "horizontal", "gridAlign": "all", "columnPadding": 231, "rowPadding": 24, "padding": 10, "labelFont": "Liberation Sans", "labelFontSize": 30, "labelColor": "black", "labelLimit": 600, "labelOffset": 15, "symbolSize": 484, "symbolStrokeWidth": 0, "symbolOpacity": 1, "strokeColor": "black", "fillColor": "white"}}}}
 ]},
{"title": "Mosquitoes", "width": 830, "height": 269, "data": {"name": "rows"}, "transform": [{"filter": "datum.ds === 'Mosquitoes'"}],
 "encoding": {"y": {"field": "v", "type": "quantitative", "scale": {"domain": [0.04, 0.31], "nice": false, "zero": false}, "axis": {"values": [0.05, 0.13, 0.22, 0.30], "format": ".2f", "title": "Quantification error"}}},
 "layer": [
  {"transform": [{"filter": "datum.m === 'Static'"}], "mark": {"type": "rule", "color": "#B22222", "strokeWidth": 5}, "encoding": {}},
  {"transform": [{"filter": "datum.m === 'Sliding'"}], "mark": {"type": "rule", "color": "#1874CD", "strokeWidth": 5}, "encoding": {}},
  {"transform": [{"filter": "datum.m === 'SQSI'"}], "mark": {"type": "rule", "color": "#000000", "strokeWidth": 5, "strokeDash": [20, 20]}, "encoding": {}},
  {"transform": [{"filter": "datum.m === 'SQSI−IS+Farthest−First'"}], "mark": {"type": "line", "color": "#458B74", "strokeWidth": 5, "strokeCap": "round", "strokeDash": [26, 16]}, "encoding": {"x": {"field": "p", "type": "quantitative", "scale": {"domain": [1.4, 98.6], "nice": false, "zero": false}, "axis": {"values": [5,10,15,20,25,30,35,40,45,50,55,60,65,70,75,80,85,90,95], "labelExpr": "datum.value % 10 === 5 ? datum.value + '%' : ''", "title": "% Selected events"}}}},
  {"transform": [{"filter": "datum.m === 'SQSI−IS+K−Means'"}], "mark": {"type": "line", "color": "#FF4040", "strokeWidth": 5, "strokeCap": "round", "strokeDash": [14, 20]}, "encoding": {"x": {"field": "p", "type": "quantitative", "scale": {"domain": [1.4, 98.6], "nice": false, "zero": false}}}},
  {"transform": [{"filter": "datum.m === 'SQSI−IS+Random'"}], "mark": {"type": "line", "color": "#DAA520", "strokeWidth": 5, "strokeCap": "round", "strokeDash": [14, 20]}, "encoding": {"x": {"field": "p", "type": "quantitative", "scale": {"domain": [1.4, 98.6], "nice": false, "zero": false}}}},
  {"transform": [{"filter": "isValid(datum.p)"}], "mark": {"type": "point", "filled": true, "opacity": 1, "size": 400, "strokeWidth": 0},
   "encoding": {"x": {"field": "p", "type": "quantitative", "scale": {"domain": [1.4, 98.6], "nice": false, "zero": false}},
    "color": {"field": "m", "type": "nominal", "scale": {"domain": ["Sliding", "SQSI", "SQSI−IS+Farthest−First", "Static", "SQSI−IS+K−Means", "SQSI−IS+Random"], "range": ["#1874CD", "#000000", "#458B74", "#B22222", "#FF4040", "#DAA520"]}, "legend": {"title": null, "orient": "none", "legendX": 112, "legendY": 1285, "columns": 3, "direction": "horizontal", "gridAlign": "all", "columnPadding": 231, "rowPadding": 24, "padding": 10, "labelFont": "Liberation Sans", "labelFontSize": 30, "labelColor": "black", "labelLimit": 600, "labelOffset": 15, "symbolSize": 484, "symbolStrokeWidth": 0, "symbolOpacity": 1, "strokeColor": "black", "fillColor": "white"}},
    "shape": {"field": "m", "type": "nominal", "scale": {"domain": ["Sliding", "SQSI", "SQSI−IS+Farthest−First", "Static", "SQSI−IS+K−Means", "SQSI−IS+Random"], "range": ["M-1.5,-0.22L1.5,-0.22L1.5,0.22L-1.5,0.22Z", "M-0.85,-0.22L0.85,-0.22L0.85,0.22L-0.85,0.22Z", "M-0.22,-0.95L0.22,-0.95L0.22,0.95L-0.22,0.95ZM-0.95,-0.22L0.95,-0.22L0.95,0.22L-0.95,0.22ZM0.516,-0.827L0.827,-0.516L-0.516,0.827L-0.827,0.516ZM-0.827,-0.516L-0.516,-0.827L0.827,0.516L0.516,0.827Z", "M-1.5,-0.22L1.5,-0.22L1.5,0.22L-1.5,0.22Z", "M0,-0.68L0.78,0.68L-0.78,0.68Z", "M-0.65,-0.65L0.65,-0.65L0.65,0.65L-0.65,0.65Z"]}, "legend": {"title": null, "orient": "none", "legendX": 112, "legendY": 1285, "columns": 3, "direction": "horizontal", "gridAlign": "all", "columnPadding": 231, "rowPadding": 24, "padding": 10, "labelFont": "Liberation Sans", "labelFontSize": 30, "labelColor": "black", "labelLimit": 600, "labelOffset": 15, "symbolSize": 484, "symbolStrokeWidth": 0, "symbolOpacity": 1, "strokeColor": "black", "fillColor": "white"}}}}
 ]},
{"title": "Insects", "width": 830, "height": 269, "data": {"name": "rows"}, "transform": [{"filter": "datum.ds === 'Insects'"}],
 "encoding": {"y": {"field": "v", "type": "quantitative", "scale": {"domain": [0.014, 0.176], "nice": false, "zero": false}, "axis": {"values": [0.02, 0.07, 0.12, 0.17], "format": ".2f", "title": "Quantification error"}}},
 "layer": [
  {"transform": [{"filter": "datum.m === 'Static'"}], "mark": {"type": "rule", "color": "#B22222", "strokeWidth": 5}, "encoding": {}},
  {"transform": [{"filter": "datum.m === 'Sliding'"}], "mark": {"type": "rule", "color": "#1874CD", "strokeWidth": 5}, "encoding": {}},
  {"transform": [{"filter": "datum.m === 'SQSI'"}], "mark": {"type": "rule", "color": "#000000", "strokeWidth": 5, "strokeDash": [20, 20]}, "encoding": {}},
  {"transform": [{"filter": "datum.m === 'SQSI−IS+Farthest−First'"}], "mark": {"type": "line", "color": "#458B74", "strokeWidth": 5, "strokeCap": "round", "strokeDash": [26, 16]}, "encoding": {"x": {"field": "p", "type": "quantitative", "scale": {"domain": [1.4, 98.6], "nice": false, "zero": false}, "axis": {"values": [5,10,15,20,25,30,35,40,45,50,55,60,65,70,75,80,85,90,95], "labelExpr": "datum.value % 10 === 5 ? datum.value + '%' : ''", "title": "% Selected events"}}}},
  {"transform": [{"filter": "datum.m === 'SQSI−IS+K−Means'"}], "mark": {"type": "line", "color": "#FF4040", "strokeWidth": 5, "strokeCap": "round", "strokeDash": [14, 20]}, "encoding": {"x": {"field": "p", "type": "quantitative", "scale": {"domain": [1.4, 98.6], "nice": false, "zero": false}}}},
  {"transform": [{"filter": "datum.m === 'SQSI−IS+Random'"}], "mark": {"type": "line", "color": "#DAA520", "strokeWidth": 5, "strokeCap": "round", "strokeDash": [14, 20]}, "encoding": {"x": {"field": "p", "type": "quantitative", "scale": {"domain": [1.4, 98.6], "nice": false, "zero": false}}}},
  {"transform": [{"filter": "isValid(datum.p)"}], "mark": {"type": "point", "filled": true, "opacity": 1, "size": 400, "strokeWidth": 0},
   "encoding": {"x": {"field": "p", "type": "quantitative", "scale": {"domain": [1.4, 98.6], "nice": false, "zero": false}},
    "color": {"field": "m", "type": "nominal", "scale": {"domain": ["Sliding", "SQSI", "SQSI−IS+Farthest−First", "Static", "SQSI−IS+K−Means", "SQSI−IS+Random"], "range": ["#1874CD", "#000000", "#458B74", "#B22222", "#FF4040", "#DAA520"]}, "legend": {"title": null, "orient": "none", "legendX": 112, "legendY": 1285, "columns": 3, "direction": "horizontal", "gridAlign": "all", "columnPadding": 231, "rowPadding": 24, "padding": 10, "labelFont": "Liberation Sans", "labelFontSize": 30, "labelColor": "black", "labelLimit": 600, "labelOffset": 15, "symbolSize": 484, "symbolStrokeWidth": 0, "symbolOpacity": 1, "strokeColor": "black", "fillColor": "white"}},
    "shape": {"field": "m", "type": "nominal", "scale": {"domain": ["Sliding", "SQSI", "SQSI−IS+Farthest−First", "Static", "SQSI−IS+K−Means", "SQSI−IS+Random"], "range": ["M-1.5,-0.22L1.5,-0.22L1.5,0.22L-1.5,0.22Z", "M-0.85,-0.22L0.85,-0.22L0.85,0.22L-0.85,0.22Z", "M-0.22,-0.95L0.22,-0.95L0.22,0.95L-0.22,0.95ZM-0.95,-0.22L0.95,-0.22L0.95,0.22L-0.95,0.22ZM0.516,-0.827L0.827,-0.516L-0.516,0.827L-0.827,0.516ZM-0.827,-0.516L-0.516,-0.827L0.827,0.516L0.516,0.827Z", "M-1.5,-0.22L1.5,-0.22L1.5,0.22L-1.5,0.22Z", "M0,-0.68L0.78,0.68L-0.78,0.68Z", "M-0.65,-0.65L0.65,-0.65L0.65,0.65L-0.65,0.65Z"]}, "legend": {"title": null, "orient": "none", "legendX": 112, "legendY": 1285, "columns": 3, "direction": "horizontal", "gridAlign": "all", "columnPadding": 231, "rowPadding": 24, "padding": 10, "labelFont": "Liberation Sans", "labelFontSize": 30, "labelColor": "black", "labelLimit": 600, "labelOffset": 15, "symbolSize": 484, "symbolStrokeWidth": 0, "symbolOpacity": 1, "strokeColor": "black", "fillColor": "white"}}}}
 ]},
{"title": "NOAA", "width": 830, "height": 269, "data": {"name": "rows"}, "transform": [{"filter": "datum.ds === 'NOAA'"}],
 "encoding": {"y": {"field": "v", "type": "quantitative", "scale": {"domain": [0.0564, 0.1536], "nice": false, "zero": false}, "axis": {"values": [0.06, 0.09, 0.12, 0.15], "format": ".2f", "title": "Quantification error"}}},
 "layer": [
  {"transform": [{"filter": "datum.m === 'Static'"}], "mark": {"type": "rule", "color": "#B22222", "strokeWidth": 5}, "encoding": {}},
  {"transform": [{"filter": "datum.m === 'Sliding'"}], "mark": {"type": "rule", "color": "#1874CD", "strokeWidth": 5}, "encoding": {}},
  {"transform": [{"filter": "datum.m === 'SQSI'"}], "mark": {"type": "rule", "color": "#000000", "strokeWidth": 5, "strokeDash": [20, 20]}, "encoding": {}},
  {"transform": [{"filter": "datum.m === 'SQSI−IS+Farthest−First'"}], "mark": {"type": "line", "color": "#458B74", "strokeWidth": 5, "strokeCap": "round", "strokeDash": [26, 16]}, "encoding": {"x": {"field": "p", "type": "quantitative", "scale": {"domain": [1.4, 98.6], "nice": false, "zero": false}, "axis": {"values": [5,10,15,20,25,30,35,40,45,50,55,60,65,70,75,80,85,90,95], "labelExpr": "datum.value % 10 === 5 ? datum.value + '%' : ''", "title": "% Selected events"}}}},
  {"transform": [{"filter": "datum.m === 'SQSI−IS+K−Means'"}], "mark": {"type": "line", "color": "#FF4040", "strokeWidth": 5, "strokeCap": "round", "strokeDash": [14, 20]}, "encoding": {"x": {"field": "p", "type": "quantitative", "scale": {"domain": [1.4, 98.6], "nice": false, "zero": false}}}},
  {"transform": [{"filter": "datum.m === 'SQSI−IS+Random'"}], "mark": {"type": "line", "color": "#DAA520", "strokeWidth": 5, "strokeCap": "round", "strokeDash": [14, 20]}, "encoding": {"x": {"field": "p", "type": "quantitative", "scale": {"domain": [1.4, 98.6], "nice": false, "zero": false}}}},
  {"transform": [{"filter": "isValid(datum.p)"}], "mark": {"type": "point", "filled": true, "opacity": 1, "size": 400, "strokeWidth": 0},
   "encoding": {"x": {"field": "p", "type": "quantitative", "scale": {"domain": [1.4, 98.6], "nice": false, "zero": false}},
    "color": {"field": "m", "type": "nominal", "scale": {"domain": ["Sliding", "SQSI", "SQSI−IS+Farthest−First", "Static", "SQSI−IS+K−Means", "SQSI−IS+Random"], "range": ["#1874CD", "#000000", "#458B74", "#B22222", "#FF4040", "#DAA520"]}, "legend": {"title": null, "orient": "none", "legendX": 112, "legendY": 1285, "columns": 3, "direction": "horizontal", "gridAlign": "all", "columnPadding": 231, "rowPadding": 24, "padding": 10, "labelFont": "Liberation Sans", "labelFontSize": 30, "labelColor": "black", "labelLimit": 600, "labelOffset": 15, "symbolSize": 484, "symbolStrokeWidth": 0, "symbolOpacity": 1, "strokeColor": "black", "fillColor": "white"}},
    "shape": {"field": "m", "type": "nominal", "scale": {"domain": ["Sliding", "SQSI", "SQSI−IS+Farthest−First", "Static", "SQSI−IS+K−Means", "SQSI−IS+Random"], "range": ["M-1.5,-0.22L1.5,-0.22L1.5,0.22L-1.5,0.22Z", "M-0.85,-0.22L0.85,-0.22L0.85,0.22L-0.85,0.22Z", "M-0.22,-0.95L0.22,-0.95L0.22,0.95L-0.22,0.95ZM-0.95,-0.22L0.95,-0.22L0.95,0.22L-0.95,0.22ZM0.516,-0.827L0.827,-0.516L-0.516,0.827L-0.827,0.516ZM-0.827,-0.516L-0.516,-0.827L0.827,0.516L0.516,0.827Z", "M-1.5,-0.22L1.5,-0.22L1.5,0.22L-1.5,0.22Z", "M0,-0.68L0.78,0.68L-0.78,0.68Z", "M-0.65,-0.65L0.65,-0.65L0.65,0.65L-0.65,0.65Z"]}, "legend": {"title": null, "orient": "none", "legendX": 112, "legendY": 1285, "columns": 3, "direction": "horizontal", "gridAlign": "all", "columnPadding": 231, "rowPadding": 24, "padding": 10, "labelFont": "Liberation Sans", "labelFontSize": 30, "labelColor": "black", "labelLimit": 600, "labelOffset": 15, "symbolSize": 484, "symbolStrokeWidth": 0, "symbolOpacity": 1, "strokeColor": "black", "fillColor": "white"}}}}
 ]},
{"title": "Arabic−Digit", "width": 830, "height": 269, "data": {"name": "rows"}, "transform": [{"filter": "datum.ds === 'Arabic−Digit'"}],
 "encoding": {"y": {"field": "v", "type": "quantitative", "scale": {"domain": [0.0024, 0.2076], "nice": false, "zero": false}, "axis": {"values": [0.01, 0.07, 0.14, 0.20], "format": ".2f", "title": "Quantification error"}}},
 "layer": [
  {"transform": [{"filter": "datum.m === 'Static'"}], "mark": {"type": "rule", "color": "#B22222", "strokeWidth": 5}, "encoding": {}},
  {"transform": [{"filter": "datum.m === 'Sliding'"}], "mark": {"type": "rule", "color": "#1874CD", "strokeWidth": 5}, "encoding": {}},
  {"transform": [{"filter": "datum.m === 'SQSI'"}], "mark": {"type": "rule", "color": "#000000", "strokeWidth": 5, "strokeDash": [20, 20]}, "encoding": {}},
  {"transform": [{"filter": "datum.m === 'SQSI−IS+Farthest−First'"}], "mark": {"type": "line", "color": "#458B74", "strokeWidth": 5, "strokeCap": "round", "strokeDash": [26, 16]}, "encoding": {"x": {"field": "p", "type": "quantitative", "scale": {"domain": [1.4, 98.6], "nice": false, "zero": false}, "axis": {"values": [5,10,15,20,25,30,35,40,45,50,55,60,65,70,75,80,85,90,95], "labelExpr": "datum.value % 10 === 5 ? datum.value + '%' : ''", "title": "% Selected events"}}}},
  {"transform": [{"filter": "datum.m === 'SQSI−IS+K−Means'"}], "mark": {"type": "line", "color": "#FF4040", "strokeWidth": 5, "strokeCap": "round", "strokeDash": [14, 20]}, "encoding": {"x": {"field": "p", "type": "quantitative", "scale": {"domain": [1.4, 98.6], "nice": false, "zero": false}}}},
  {"transform": [{"filter": "datum.m === 'SQSI−IS+Random'"}], "mark": {"type": "line", "color": "#DAA520", "strokeWidth": 5, "strokeCap": "round", "strokeDash": [14, 20]}, "encoding": {"x": {"field": "p", "type": "quantitative", "scale": {"domain": [1.4, 98.6], "nice": false, "zero": false}}}},
  {"transform": [{"filter": "isValid(datum.p)"}], "mark": {"type": "point", "filled": true, "opacity": 1, "size": 400, "strokeWidth": 0},
   "encoding": {"x": {"field": "p", "type": "quantitative", "scale": {"domain": [1.4, 98.6], "nice": false, "zero": false}},
    "color": {"field": "m", "type": "nominal", "scale": {"domain": ["Sliding", "SQSI", "SQSI−IS+Farthest−First", "Static", "SQSI−IS+K−Means", "SQSI−IS+Random"], "range": ["#1874CD", "#000000", "#458B74", "#B22222", "#FF4040", "#DAA520"]}, "legend": {"title": null, "orient": "none", "legendX": 112, "legendY": 1285, "columns": 3, "direction": "horizontal", "gridAlign": "all", "columnPadding": 231, "rowPadding": 24, "padding": 10, "labelFont": "Liberation Sans", "labelFontSize": 30, "labelColor": "black", "labelLimit": 600, "labelOffset": 15, "symbolSize": 484, "symbolStrokeWidth": 0, "symbolOpacity": 1, "strokeColor": "black", "fillColor": "white"}},
    "shape": {"field": "m", "type": "nominal", "scale": {"domain": ["Sliding", "SQSI", "SQSI−IS+Farthest−First", "Static", "SQSI−IS+K−Means", "SQSI−IS+Random"], "range": ["M-1.5,-0.22L1.5,-0.22L1.5,0.22L-1.5,0.22Z", "M-0.85,-0.22L0.85,-0.22L0.85,0.22L-0.85,0.22Z", "M-0.22,-0.95L0.22,-0.95L0.22,0.95L-0.22,0.95ZM-0.95,-0.22L0.95,-0.22L0.95,0.22L-0.95,0.22ZM0.516,-0.827L0.827,-0.516L-0.516,0.827L-0.827,0.516ZM-0.827,-0.516L-0.516,-0.827L0.827,0.516L0.516,0.827Z", "M-1.5,-0.22L1.5,-0.22L1.5,0.22L-1.5,0.22Z", "M0,-0.68L0.78,0.68L-0.78,0.68Z", "M-0.65,-0.65L0.65,-0.65L0.65,0.65L-0.65,0.65Z"]}, "legend": {"title": null, "orient": "none", "legendX": 112, "legendY": 1285, "columns": 3, "direction": "horizontal", "gridAlign": "all", "columnPadding": 231, "rowPadding": 24, "padding": 10, "labelFont": "Liberation Sans", "labelFontSize": 30, "labelColor": "black", "labelLimit": 600, "labelOffset": 15, "symbolSize": 484, "symbolStrokeWidth": 0, "symbolOpacity": 1, "strokeColor": "black", "fillColor": "white"}}}}
 ]},
{"title": "QG", "width": 830, "height": 269, "data": {"name": "rows"}, "transform": [{"filter": "datum.ds === 'QG'"}],
 "encoding": {"y": {"field": "v", "type": "quantitative", "scale": {"domain": [-0.0072, 0.4572], "nice": false, "zero": false}, "axis": {"values": [0.01, 0.15, 0.30, 0.44], "format": ".2f", "title": "Quantification error"}}},
 "layer": [
  {"transform": [{"filter": "datum.m === 'Static'"}], "mark": {"type": "rule", "color": "#B22222", "strokeWidth": 5}, "encoding": {}},
  {"transform": [{"filter": "datum.m === 'Sliding'"}], "mark": {"type": "rule", "color": "#1874CD", "strokeWidth": 5}, "encoding": {}},
  {"transform": [{"filter": "datum.m === 'SQSI'"}], "mark": {"type": "rule", "color": "#000000", "strokeWidth": 5, "strokeDash": [20, 20]}, "encoding": {}},
  {"transform": [{"filter": "datum.m === 'SQSI−IS+Farthest−First'"}], "mark": {"type": "line", "color": "#458B74", "strokeWidth": 5, "strokeCap": "round", "strokeDash": [26, 16]}, "encoding": {"x": {"field": "p", "type": "quantitative", "scale": {"domain": [1.4, 98.6], "nice": false, "zero": false}, "axis": {"values": [5,10,15,20,25,30,35,40,45,50,55,60,65,70,75,80,85,90,95], "labelExpr": "datum.value % 10 === 5 ? datum.value + '%' : ''", "title": "% Selected events"}}}},
  {"transform": [{"filter": "datum.m === 'SQSI−IS+K−Means'"}], "mark": {"type": "line", "color": "#FF4040", "strokeWidth": 5, "strokeCap": "round", "strokeDash": [14, 20]}, "encoding": {"x": {"field": "p", "type": "quantitative", "scale": {"domain": [1.4, 98.6], "nice": false, "zero": false}}}},
  {"transform": [{"filter": "datum.m === 'SQSI−IS+Random'"}], "mark": {"type": "line", "color": "#DAA520", "strokeWidth": 5, "strokeCap": "round", "strokeDash": [14, 20]}, "encoding": {"x": {"field": "p", "type": "quantitative", "scale": {"domain": [1.4, 98.6], "nice": false, "zero": false}}}},
  {"transform": [{"filter": "isValid(datum.p)"}], "mark": {"type": "point", "filled": true, "opacity": 1, "size": 400, "strokeWidth": 0},
   "encoding": {"x": {"field": "p", "type": "quantitative", "scale": {"domain": [1.4, 98.6], "nice": false, "zero": false}},
    "color": {"field": "m", "type": "nominal", "scale": {"domain": ["Sliding", "SQSI", "SQSI−IS+Farthest−First", "Static", "SQSI−IS+K−Means", "SQSI−IS+Random"], "range": ["#1874CD", "#000000", "#458B74", "#B22222", "#FF4040", "#DAA520"]}, "legend": {"title": null, "orient": "none", "legendX": 112, "legendY": 1285, "columns": 3, "direction": "horizontal", "gridAlign": "all", "columnPadding": 231, "rowPadding": 24, "padding": 10, "labelFont": "Liberation Sans", "labelFontSize": 30, "labelColor": "black", "labelLimit": 600, "labelOffset": 15, "symbolSize": 484, "symbolStrokeWidth": 0, "symbolOpacity": 1, "strokeColor": "black", "fillColor": "white"}},
    "shape": {"field": "m", "type": "nominal", "scale": {"domain": ["Sliding", "SQSI", "SQSI−IS+Farthest−First", "Static", "SQSI−IS+K−Means", "SQSI−IS+Random"], "range": ["M-1.5,-0.22L1.5,-0.22L1.5,0.22L-1.5,0.22Z", "M-0.85,-0.22L0.85,-0.22L0.85,0.22L-0.85,0.22Z", "M-0.22,-0.95L0.22,-0.95L0.22,0.95L-0.22,0.95ZM-0.95,-0.22L0.95,-0.22L0.95,0.22L-0.95,0.22ZM0.516,-0.827L0.827,-0.516L-0.516,0.827L-0.827,0.516ZM-0.827,-0.516L-0.516,-0.827L0.827,0.516L0.516,0.827Z", "M-1.5,-0.22L1.5,-0.22L1.5,0.22L-1.5,0.22Z", "M0,-0.68L0.78,0.68L-0.78,0.68Z", "M-0.65,-0.65L0.65,-0.65L0.65,0.65L-0.65,0.65Z"]}, "legend": {"title": null, "orient": "none", "legendX": 112, "legendY": 1285, "columns": 3, "direction": "horizontal", "gridAlign": "all", "columnPadding": 231, "rowPadding": 24, "padding": 10, "labelFont": "Liberation Sans", "labelFontSize": 30, "labelColor": "black", "labelLimit": 600, "labelOffset": 15, "symbolSize": 484, "symbolStrokeWidth": 0, "symbolOpacity": 1, "strokeColor": "black", "fillColor": "white"}}}}
 ]}
],
"config": {
 "font": "Liberation Sans",
 "view": {"stroke": "black", "strokeWidth": 1.7},
 "title": {"font": "Liberation Sans", "fontSize": 29, "fontWeight": "bold", "color": "black", "offset": -18, "baseline": "alphabetic", "anchor": "middle", "frame": "group"},
 "axis": {"labelFont": "Liberation Sans", "titleFont": "Liberation Sans", "labelFontSize": 25, "titleFontSize": 34, "titleFontWeight": "normal", "labelColor": "black", "titleColor": "black", "tickColor": "black", "tickWidth": 1.7, "grid": false, "domain": false, "labelOverlap": false, "labelFlush": false},
 "axisX": {"tickSize": 16, "labelPadding": 41, "labelBaseline": "alphabetic", "labelAlign": "center", "labelAngle": 0, "titleBaseline": "alphabetic", "titleY": 119},
 "axisY": {"tickSize": 15, "labelPadding": 21, "labelAngle": -90, "labelAlign": "center", "labelBaseline": "alphabetic", "titleAngle": -90, "titleAlign": "center", "titleBaseline": "alphabetic", "titleX": -96, "titleY": 134.5}
}
}
